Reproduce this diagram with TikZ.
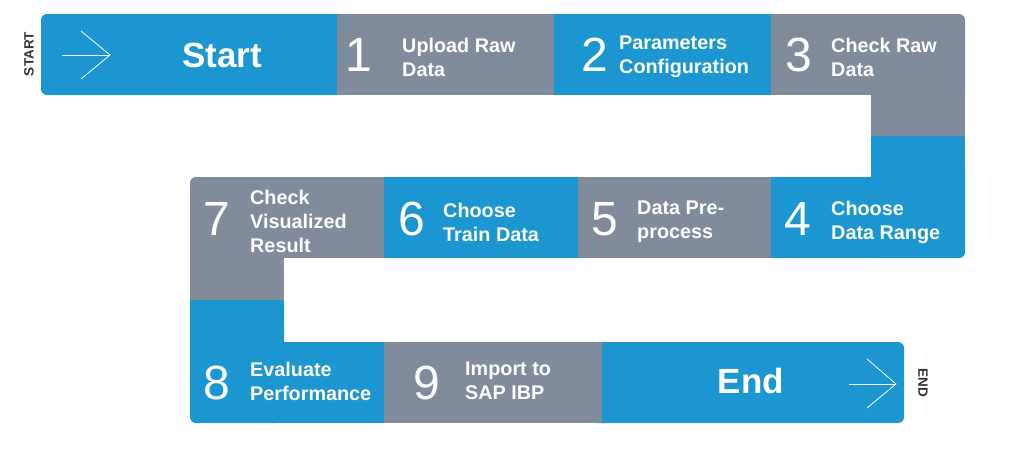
\documentclass[tikz,border=0pt]{standalone}
\usepackage{fontspec}
\setmainfont{Liberation Sans}
\definecolor{snakeblue}{RGB}{27,150,208}
\definecolor{snakegray}{RGB}{128,139,156}
\definecolor{tagdark}{RGB}{51,51,51}
\tikzset{
  num/.style={text=white, font=\fontsize{48}{48}\selectfont, inner sep=0pt, anchor=center},
  lbl/.style={text=white, font=\bfseries\fontsize{19.8}{24}\selectfont, align=left, anchor=west, inner sep=0pt},
  big/.style={text=white, font=\bfseries\fontsize{35}{35}\selectfont, inner sep=0pt},
  tag/.style={text=tagdark, font=\bfseries\fontsize{13.5}{14}\selectfont, inner sep=0pt},
  arr/.style={white, line width=0.8pt},
  bl/.style={fill=snakeblue},
  gr/.style={fill=snakegray},
}
\begin{document}
\begin{tikzpicture}[x=1pt,y=-1pt]
\useasboundingbox (0,0) rectangle (1011,453);
% row 1
\fill[bl, rounded corners=6pt] (41,14) rectangle (345,95);
\fill[gr] (337,14) rectangle (554,95);
\fill[bl] (554,14) rectangle (771,95);
\fill[gr, rounded corners=6pt] (871,14) rectangle (965,100);
\fill[gr] (771,14) rectangle (900,95);
\fill[gr] (871,60) rectangle (965,136);
% row 2
\fill[bl, rounded corners=6pt] (871,160) rectangle (965,258);
\fill[bl] (771,177) rectangle (900,258);
\fill[bl] (871,136) rectangle (965,200);
\fill[gr] (578,177) rectangle (771,258);
\fill[bl] (384,177) rectangle (578,258);
\fill[gr, rounded corners=6pt] (190,177) rectangle (284,230);
\fill[gr] (200,177) rectangle (384,258);
\fill[gr] (190,200) rectangle (284,300);
% row 3
\fill[bl, rounded corners=6pt] (190,320) rectangle (284,423);
\fill[bl] (190,300) rectangle (284,400);
\fill[bl] (200,342) rectangle (384,423);
\fill[bl, rounded corners=6pt] (590,342) rectangle (904,423);
\fill[gr] (384,342) rectangle (602,423);
% arrows
\coordinate (sa0) at (62,55); \coordinate (sa1) at (110,55);
\coordinate (sa2) at (81,31); \coordinate (sa3) at (81,79);
\draw[arr] (sa0) -- (sa1);
\draw[arr] (sa2) -- (sa1) -- (sa3);
\coordinate (ea0) at (849,384); \coordinate (ea1) at (896,384);
\coordinate (ea2) at (867,359); \coordinate (ea3) at (867,408);
\draw[arr] (ea0) -- (ea1);
\draw[arr] (ea2) -- (ea1) -- (ea3);
% tags
\node[tag, rotate=90] (starttag) at (29,54) {START};
\node[tag, rotate=-90] (endtag) at (923,383) {END};
% texts
\node[big] (start) at (222,55) {Start};
\node[big] (end) at (751,381) {End};
\node[num] (d1) at (359,55) {1};
\node[lbl] (l1) at (402,57) {Upload Raw\\Data};
\node[num] (d2) at (595,55) {2};
\node[lbl] (l2) at (619,57) {Parameters\\Configuration};
\node[num] (d3) at (799,55) {3};
\node[lbl] (l3) at (831,57) {Check Raw\\Data};
\node[num] (d4) at (798,219) {4};
\node[lbl] (l4) at (831,222) {Choose\\Data Range};
\node[num] (d5) at (605,219) {5};
\node[lbl] (l5) at (637,222) {Data Pre-\\process};
\node[num] (d6) at (412,219) {6};
\node[lbl] (l6) at (443,222) {Choose\\Train Data};
\node[num] (d7) at (217,219) {7};
\node[lbl] (l7) at (250,221) {Check\\Visualized\\Result};
\node[num] (d8) at (217,383) {8};
\node[lbl] (l8) at (250,381) {Evaluate\\Performance};
\node[num] (d9) at (427,383) {9};
\node[lbl] (l9) at (465,381) {Import to\\SAP IBP};
\end{tikzpicture}
\end{document}
